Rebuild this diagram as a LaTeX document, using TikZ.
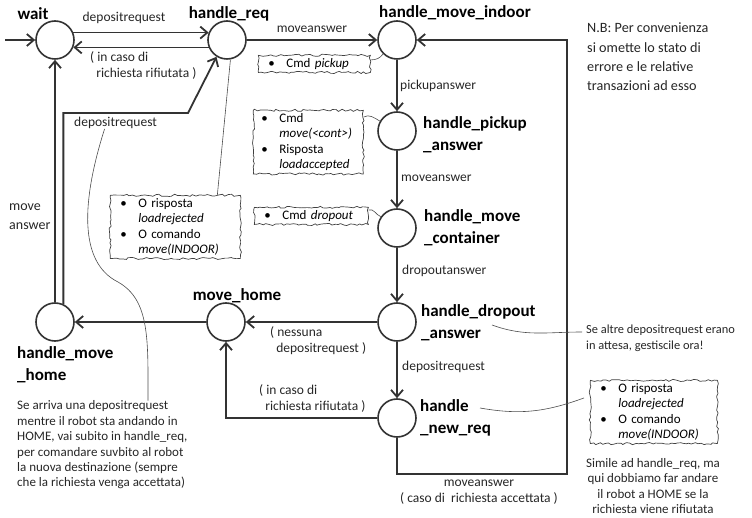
\documentclass[tikz,border=0pt]{standalone}
\usepackage{fontspec}
\setmainfont{Carlito}
\usetikzlibrary{arrows.meta,decorations.pathmorphing}

\newcommand{\notebul}{\makebox[18pt][l]{\textbullet}}
\newcommand{\notegap}{\makebox[18pt]{}}

\begin{document}
\begin{tikzpicture}[x=1pt, y=-1pt,
  state/.style={circle, draw=black!80, fill=white, line width=1.6pt, minimum size=38pt, inner sep=0pt},
  statename/.style={font=\fontsize{17}{22}\selectfont\bfseries, align=left, inner sep=0pt},
  trans/.style={draw=black!80, line width=1.8pt, -{Straight Barb[length=7pt,width=12pt]}},
  translbl/.style={font=\fontsize{13.5}{16}\selectfont, align=left, inner sep=0pt, text=black!85},
  note/.style={draw=black!75, line width=0.7pt, decorate,
    decoration={random steps, segment length=3pt, amplitude=1.1pt},
    inner xsep=10pt, inner ysep=3pt, align=left, anchor=north west,
    font=\fontsize{13}{15.5}\selectfont},
  memo/.style={font=\fontsize{13}{15.4}\selectfont, inner sep=0pt, text=black!85},
  memoline/.style={draw=black!70, line width=0.6pt}]
  \pgfmathsetseed{7}
  \useasboundingbox (0,0) rectangle (752,518);

  % states
  \node[state] (wait) at (55,40) {};
  \node[state] (hreq) at (227,40) {};
  \node[state] (hindoor) at (397,40) {};
  \node[state] (hpickup) at (397,131) {};
  \node[state] (hcont) at (397,228) {};
  \node[state] (hdrop) at (397,322) {};
  \node[state] (hnew) at (397,418) {};
  \node[state] (mhome) at (226,322) {};
  \node[state] (hmhome) at (55,322) {};

  % state names
  \node[statename] (wait-name) at (33,14) {wait};
  \node[statename] (hreq-name) at (229,14) {handle\_req};
  \node[statename] (hindoor-name) at (455,13) {handle\_move\_indoor};
  \node[statename, anchor=west] (hpickup-name) at (423,135) {handle\_pickup\\\_answer};
  \node[statename, anchor=west] (hcont-name) at (424,228) {handle\_move\\\_container};
  \node[statename, anchor=west] (hdrop-name) at (421,323) {handle\_dropout\\\_answer};
  \node[statename, anchor=west] (hnew-name) at (420,418) {handle\\\_new\_req};
  \node[statename] (mhome-name) at (237,296) {move\_home};
  \node[statename, anchor=west] (hmhome-name) at (17,365) {handle\_move\\\_home};

  % transitions
  \coordinate (start) at (5,40);
  \coordinate (back-bend) at (188,113);
  \coordinate (loop-corner) at (567,474);
  \draw[trans] (start) -- (wait);
  \draw[trans] (wait.22) -- (hreq.158);
  \draw[trans] (hreq.202) -- (wait.338);
  \draw[trans] (hreq) -- (hindoor);
  \draw[trans] (hindoor) -- (hpickup);
  \draw[trans] (hpickup) -- (hcont);
  \draw[trans] (hcont) -- (hdrop);
  \draw[trans] (hdrop) -- (hnew);
  \draw[trans] (hdrop) -- (mhome);
  \draw[trans] (mhome) -- (hmhome);
  \draw[trans] (hmhome) -- (wait);
  \draw[trans] (hmhome.65) |- (back-bend) -- (hreq.238);
  \draw[trans] (hnew) -| (mhome);
  \draw[trans] (hnew) |- (loop-corner) |- (hindoor);

  % transition labels
  \node[translbl] (lbl-dep1) at (124,18) {depositrequest};
  \node[translbl, anchor=west] (lbl-rej1) at (90,66) {( in caso di\\\ \ richiesta rifiutata )};
  \node[translbl] (lbl-mv1) at (312,29) {moveanswer};
  \node[translbl, anchor=west] (lbl-pick) at (400,86) {pickupanswer};
  \node[translbl, anchor=west] (lbl-mv2) at (401,178) {moveanswer};
  \node[translbl, anchor=west] (lbl-drop) at (402,271) {dropoutanswer};
  \node[translbl, anchor=west] (lbl-dep2) at (402,367) {depositrequest};
  \node[translbl, anchor=west] (lbl-none) at (270,341) {( nessuna\\\ \ depositrequest )};
  \node[translbl, anchor=west] (lbl-rej2) at (259,399) {( in caso di\\\ \ richiesta rifiutata )};
  \node[translbl, anchor=west, font=\fontsize{14}{19}\selectfont] (lbl-mvh) at (9,217) {move\\answer};
  \node[translbl, anchor=west] (lbl-dep3) at (74,123) {depositrequest};
  \node[translbl, align=center] (lbl-acc) at (479,492) {moveanswer\\( caso di\ \ richiesta accettata )};

  % notes
  \node[note, text width=92pt] (note-pick) at (258,55) {\notebul Cmd \textit{pickup}};
  \node[note, text width=94pt, inner xsep=8pt] (note-cont) at (253,110)
    {\notebul Cmd\\\notegap\textit{move(<cont>)}\\\notebul Risposta\\\notegap\textit{loadaccepted}};
  \node[note, text width=94pt] (note-drop) at (254,207) {\notebul Cmd \textit{dropout}};
  \node[note, text width=110pt] (note-rej) at (110,195)
    {\notebul O risposta\\\notegap\textit{loadrejected}\\\notebul O comando\\\notegap\textit{move(INDOOR)}};
  \node[note, text width=107pt] (note-rej2) at (590,380)
    {\notebul O risposta\\\notegap\textit{loadrejected}\\\notebul O comando\\\notegap\textit{move(INDOOR)}};

  % free text
  \node[memo, anchor=west, align=left, font=\fontsize{14.2}{19.3}\selectfont] (nb-memo) at (587,57)
    {N.B: Per convenienza\\si omette lo stato di\\errore e le relative\\transazioni ad esso};
  \node[memo, anchor=west, align=left, font=\fontsize{12.4}{16}\selectfont] (drop-memo) at (586,338)
    {Se altre depositrequest erano\\in attesa, gestiscile ora!};
  \node[memo, anchor=west, align=left] (home-memo) at (17,445)
    {Se arriva una depositrequest\\mentre il robot sta andando in\\HOME, vai subito in handle\_req,\\per comandare suvbito al robot\\la nuova destinazione (sempre\\che la richiesta venga accettata)};
  \node[memo, align=center] (sim-memo) at (653,486)
    {Simile ad handle\_req, ma\\qui dobbiamo far andare\\il robot a HOME se la\\richiesta viene rifiutata};

  % note connectors
  \coordinate (hnew-tail) at (480,408);
  \coordinate (hdrop-tail) at (492,325);
  \draw[memoline] ([yshift=4pt]note-pick.east) to[out=0, in=235] (hindoor.225);
  \draw[memoline] ([yshift=-7pt]note-cont.north east) to[out=30, in=150] (hpickup.150);
  \draw[memoline] ([yshift=-3pt]note-drop.north east) to[out=20, in=160] (hcont.145);
  \draw[memoline] (hreq.280) -- ([xshift=42pt]note-rej.north);
  \draw[memoline] (hnew-tail) to[out=-10, in=200] ([xshift=-6pt, yshift=14pt]note-rej2.west);
  \draw[memoline] (hdrop-tail) to[out=-20, in=180] ([xshift=-4pt, yshift=6pt]drop-memo.west);
  \draw[memoline] ([xshift=-11pt]lbl-dep3.south) .. controls (82,200) and (78,262) .. (118,282)
    .. controls (150,300) and (148,340) .. ([xshift=131pt]home-memo.north west);
\end{tikzpicture}
\end{document}
